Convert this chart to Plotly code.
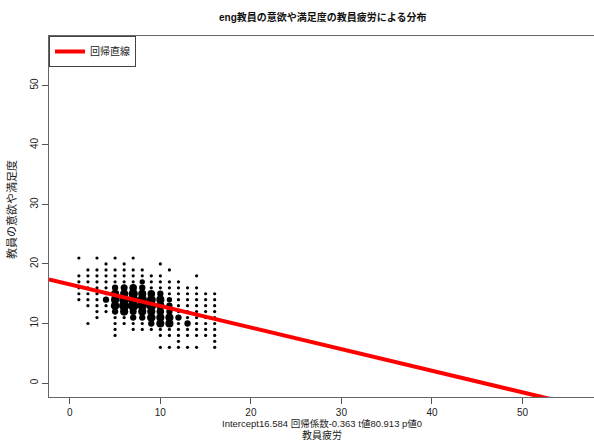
import plotly.graph_objects as go
import numpy as np

title = "eng教員の意欲や満足度の教員疲労による分布"
x_label = "教員疲労"
y_label = "教員の意欲や満足度"
sub_label = "Intercept16.584 回帰係数-0.363 t値80.913 p値0"
legend_label = "回帰直線"

intercept = 16.584
slope = -0.363

x_levels = list(range(1, 17))
y_levels = list(range(21, 5, -1))
# counts per (y row, x column); 0 = no observation
counts = [
    [1, 0, 1, 0, 1, 0, 1, 0, 0, 0, 0, 0, 0, 0, 0, 0],   # y=21
    [0, 0, 0, 1, 0, 1, 0, 0, 0, 1, 0, 0, 0, 0, 0, 0],   # y=20
    [0, 1, 1, 1, 1, 1, 1, 1, 0, 0, 1, 0, 0, 0, 0, 0],   # y=19
    [1, 1, 1, 1, 1, 1, 1, 1, 1, 1, 0, 0, 0, 1, 0, 0],   # y=18
    [1, 1, 1, 1, 1, 1, 1, 2, 1, 1, 1, 1, 0, 0, 0, 0],   # y=17
    [1, 1, 1, 1, 3, 4, 5, 3, 1, 1, 1, 1, 1, 1, 0, 0],   # y=16
    [1, 1, 1, 1, 6, 6, 9, 6, 5, 3, 1, 1, 1, 1, 1, 1],   # y=15
    [1, 1, 1, 3, 6, 10, 11, 9, 8, 6, 2, 1, 1, 1, 1, 1], # y=14
    [0, 1, 1, 1, 7, 11, 12, 9, 10, 6, 3, 1, 1, 1, 1, 1],# y=13
    [0, 0, 1, 1, 3, 6, 4, 6, 6, 5, 3, 1, 1, 1, 1, 1],   # y=12
    [0, 0, 1, 0, 1, 1, 3, 3, 7, 6, 6, 3, 1, 1, 1, 1],   # y=11
    [0, 1, 0, 0, 1, 1, 1, 1, 3, 6, 6, 1, 3, 1, 1, 1],   # y=10
    [0, 0, 0, 0, 1, 0, 1, 1, 1, 1, 1, 1, 1, 1, 1, 1],   # y=9
    [0, 0, 0, 0, 1, 0, 0, 0, 0, 1, 1, 1, 1, 1, 1, 1],   # y=8
    [0, 0, 0, 0, 0, 0, 0, 0, 0, 0, 0, 1, 0, 0, 0, 1],   # y=7
    [0, 0, 0, 0, 0, 0, 0, 0, 0, 1, 1, 1, 1, 1, 0, 1],   # y=6
]
x_ticks = [0, 10, 20, 30, 40, 50]
y_ticks = [0, 10, 20, 30, 40, 50]
x_range = [-2.3, 57.9]
y_range = [-2.35, 58.3]

px_, py_, pn_ = [], [], []
for yi, row in zip(y_levels, counts):
    for xi, n in zip(x_levels, row):
        if n > 0:
            px_.append(xi); py_.append(yi); pn_.append(n)
pn_ = np.array(pn_)
sizes = 3.2 + 2.2 * np.sqrt(pn_ - 1)

FONT = "Liberation Sans, Arial, Noto Sans CJK JP, sans-serif"

fig = go.Figure()
fig.add_trace(go.Scatter(
    x=px_, y=py_, mode="markers",
    marker=dict(color="black", size=sizes, line=dict(width=0), opacity=1),
    showlegend=False, hoverinfo="skip"))

lx = np.array(x_range)
fig.add_trace(go.Scatter(
    x=lx, y=intercept + slope * lx, mode="lines",
    line=dict(color="#ff0000", width=4),
    name=legend_label, showlegend=True, hoverinfo="skip"))

L, T, B = 49, 36, 46
W, H = 594, 443
plot_w = W - L
plot_h = H - T - B

def px_to_paper_x(px):
    return (px - L) / plot_w

def px_to_paper_y(py):
    return (H - B - py) / plot_h

fig.update_layout(
    width=W, height=H,
    margin=dict(l=L, r=0, t=T, b=B),
    paper_bgcolor="white", plot_bgcolor="white",
    font=dict(family=FONT, size=11, color="#222"),
    showlegend=True,
    legend=dict(x=0, y=1, xanchor="left", yanchor="top",
                bordercolor="#444", borderwidth=1, bgcolor="white",
                font=dict(size=10), itemwidth=30, tracegroupgap=0),
    annotations=[
        dict(text="<b>" + title + "</b>", x=px_to_paper_x(322), y=px_to_paper_y(17),
             xref="paper", yref="paper", yanchor="middle",
             showarrow=False, font=dict(size=10, color="#111")),
        dict(text=sub_label, x=px_to_paper_x(322), y=px_to_paper_y(423),
             xref="paper", yref="paper", yanchor="middle",
             showarrow=False, font=dict(size=9.5, color="#222")),
        dict(text=x_label, x=px_to_paper_x(322), y=px_to_paper_y(435),
             xref="paper", yref="paper", yanchor="middle",
             showarrow=False, font=dict(size=10, color="#222")),
        dict(text=y_label, x=px_to_paper_x(12), y=px_to_paper_y(210),
             xref="paper", yref="paper", xanchor="center", yanchor="middle",
             textangle=-90, showarrow=False, font=dict(size=11, color="#222")),
    ],
)

fig.update_xaxes(range=x_range, tickvals=x_ticks, ticks="outside", ticklen=6,
                 tickcolor="#555", showline=True, linecolor="#666", linewidth=1,
                 mirror=True, showgrid=False, zeroline=False, automargin=False,
                 tickfont=dict(size=10, color="#222"))
fig.update_yaxes(range=y_range, tickvals=y_ticks, ticks="outside", ticklen=6,
                 tickcolor="#555", showline=True, linecolor="#666", linewidth=1,
                 mirror=False, showgrid=False, zeroline=False, tickangle=-90,
                 automargin=False, tickfont=dict(size=10, color="#222"))

fig.write_html("out.html", config={"displayModeBar": False},
               post_script="document.body.style.margin='0px';")
